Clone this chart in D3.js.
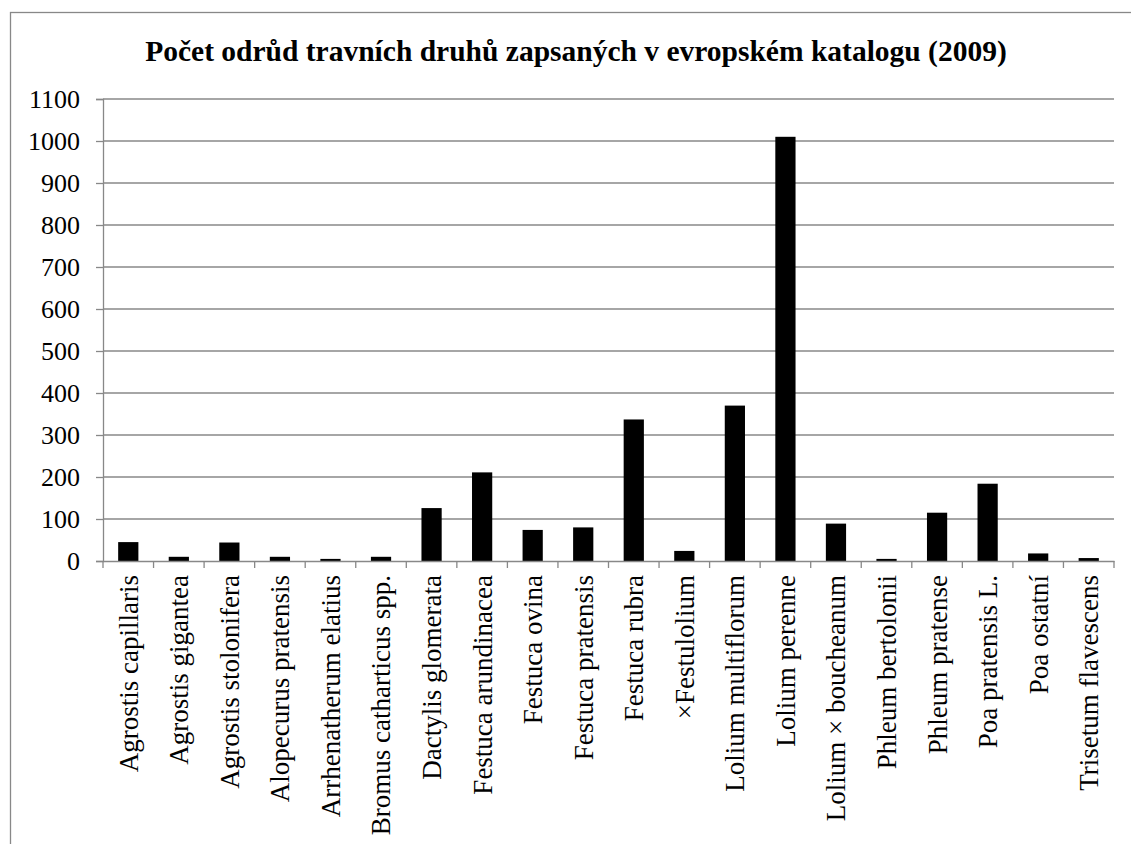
<!DOCTYPE html>
<html>
<head>
<meta charset="utf-8">
<script src="https://cdn.jsdelivr.net/npm/d3@7"></script>
<style>
  html, body { margin: 0; padding: 0; background: #fff; }
  svg { display: block; }
</style>
</head>
<body>
<svg id="chart" width="1131" height="844"></svg>
<script>
const title = "Počet odrůd travních druhů zapsaných v evropském katalogu (2009)";
const categories = [
  "Agrostis capillaris", "Agrostis gigantea", "Agrostis stolonifera", "Alopecurus pratensis",
  "Arrhenatherum elatius", "Bromus catharticus spp.", "Dactylis glomerata", "Festuca arundinacea",
  "Festuca ovina", "Festuca pratensis", "Festuca rubra", "×Festulolium",
  "Lolium multiflorum", "Lolium perenne", "Lolium × boucheanum", "Phleum bertolonii",
  "Phleum pratense", "Poa pratensis L.", "Poa ostatní", "Trisetum flavescens"
];
const values = [45, 10, 44, 10, 5, 10, 126, 211, 74, 80, 337, 24, 370, 1010, 89, 5, 115, 184, 18, 7];
const yTicks = [0, 100, 200, 300, 400, 500, 600, 700, 800, 900, 1000, 1100];

const FONT = '"Liberation Serif", "Times New Roman", Tinos, serif';
const svg = d3.select("#chart");

// outer chart border
svg.append("rect")
  .attr("x", 10.5).attr("y", 12.5)
  .attr("width", 1200).attr("height", 1000)
  .attr("fill", "none").attr("stroke", "#888").attr("stroke-width", 1.3);

const plotLeft = 103, plotRight = 1114, plotTop = 99, plotBottom = 561;

const x = d3.scaleBand().domain(categories).range([plotLeft, plotRight]).paddingInner(0.6).paddingOuter(0.3);
const xb = d3.scaleBand().domain(categories).range([plotLeft, plotRight]);
const y = d3.scaleLinear().domain([0, 1100]).range([plotBottom, plotTop]);

// title
svg.append("text")
  .attr("x", 576).attr("y", 61)
  .attr("text-anchor", "middle")
  .style("font-family", FONT)
  .style("font-weight", "bold").style("font-size", "29.5px")
  .attr("fill", "#000")
  .text(title);

// gridlines
svg.append("g").selectAll("line").data(yTicks.filter(d => d > 0)).join("line")
  .attr("x1", plotLeft).attr("x2", plotRight)
  .attr("y1", d => y(d)).attr("y2", d => y(d))
  .attr("stroke", "#888").attr("stroke-width", 1.3);

// y axis
const yAxis = d3.axisLeft(y).tickValues(yTicks).tickSize(7).tickPadding(16).tickFormat(d3.format("d"));
const gy = svg.append("g").attr("transform", `translate(${plotLeft},0)`).call(yAxis);
gy.select(".domain").attr("stroke", "#888").attr("stroke-width", 1.3);
gy.selectAll(".tick line").attr("stroke", "#888").attr("stroke-width", 1.3);
gy.selectAll(".tick text")
  .style("font-family", FONT).style("font-size", "26px").attr("fill", "#000");

// bars
svg.append("g").selectAll("rect").data(values).join("rect")
  .attr("x", (d, i) => x(categories[i]))
  .attr("width", x.bandwidth())
  .attr("y", d => y(d))
  .attr("height", d => y(0) - y(d))
  .attr("fill", "#000");

// x axis
const xAxis = d3.axisBottom(xb).tickSize(0).tickFormat(d => d);
const gx = svg.append("g").attr("transform", `translate(0,${plotBottom})`).call(xAxis);
gx.select(".domain").attr("stroke", "#888").attr("stroke-width", 1.3);
gx.selectAll(".tick text")
  .style("font-family", FONT).style("font-size", "27px").attr("fill", "#000")
  .attr("text-anchor", "end")
  .attr("transform", "rotate(-90)")
  .attr("x", -14).attr("y", 0).attr("dy", "0.35em");

// boundary ticks between categories
const bounds = categories.map(c => xb(c)).concat([plotRight]);
svg.append("g").selectAll("line").data(bounds).join("line")
  .attr("x1", d => d).attr("x2", d => d)
  .attr("y1", plotBottom).attr("y2", plotBottom + 7)
  .attr("stroke", "#888").attr("stroke-width", 1.3);
</script>
</body>
</html>
